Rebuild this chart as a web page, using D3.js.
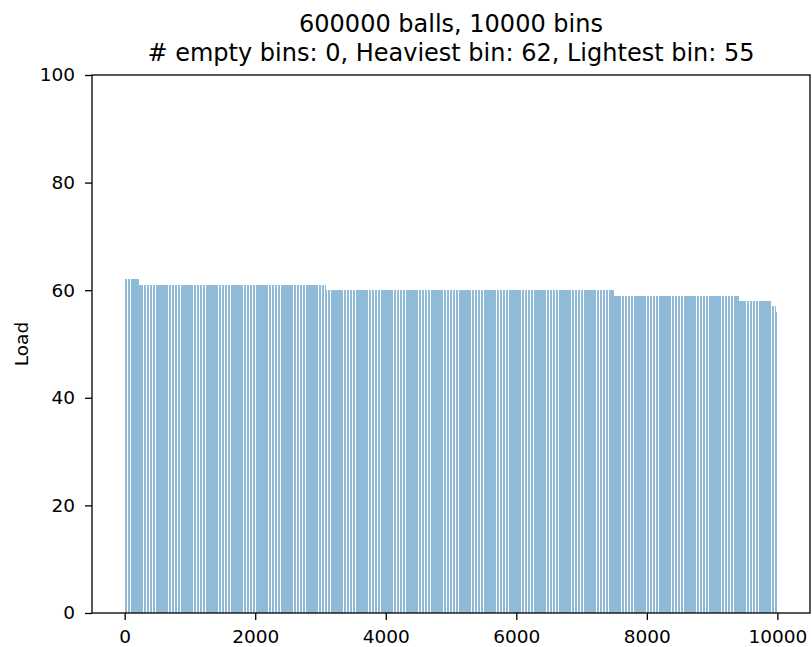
<!DOCTYPE html>
<html>
<head>
<meta charset="utf-8">
<script src="https://cdn.jsdelivr.net/npm/d3@7"></script>
<style>
  html, body { margin: 0; padding: 0; background: #fff; }
  svg { display: block; font-family: "DejaVu Sans", sans-serif; }
</style>
</head>
<body>
<svg id="chart" width="812" height="647"></svg>
<script>
// Bin loads after throwing the balls, sorted from heaviest to lightest.
// Stored as runs: each load value and how many bins carry it.
const loadLevels = [62, 61, 60, 59, 58, 57, 56, 55];
const binsPerLevel = [225, 2855, 4410, 1925, 500, 70, 13, 2];
const xTicks = [0, 2000, 4000, 6000, 8000, 10000];
const yTicks = [0, 20, 40, 60, 80, 100];
const titleLines = ["600000 balls, 10000 bins",
                    "# empty bins: 0, Heaviest bin: 62, Lightest bin: 55"];

// expand the runs into one load per bin
const loads = [];
loadLevels.forEach((v, i) => { for (let k = 0; k < binsPerLevel[i]; k++) loads.push(v); });
const nBins = loads.length;

const svg = d3.select("#chart");
const m = { left: 92, right: 810, top: 75, bottom: 613 };

// bar domain with 5% padding on either side
const span = (nBins - 1 + 0.8);
const pad = span * 0.05;
const x = d3.scaleLinear().domain([-0.4 - pad, nBins - 1 + 0.4 + pad]).range([m.left, m.right]);
const y = d3.scaleLinear().domain([0, 100]).range([m.bottom, m.top]);

// bars
svg.append("g")
  .attr("shape-rendering", "crispEdges")
  .selectAll("rect")
  .data(loads)
  .join("rect")
  .attr("x", (d, i) => x(i - 0.4))
  .attr("width", (d, i) => x(i + 0.4) - x(i - 0.4))
  .attr("y", d => y(d))
  .attr("height", d => y(0) - y(d))
  .attr("fill", "#1f77b4")
  .attr("fill-opacity", 0.5);

// axes
const tickFont = "18.5px";
const xAxis = d3.axisBottom(x).tickValues(xTicks).tickFormat(d3.format("d")).tickSize(7).tickPadding(10);
const yAxis = d3.axisLeft(y).tickValues(yTicks).tickFormat(d3.format("d")).tickSize(7).tickPadding(10);

const gx = svg.append("g").attr("transform", `translate(0,${m.bottom})`).call(xAxis);
const gy = svg.append("g").attr("transform", `translate(${m.left},0)`).call(yAxis);
[gx, gy].forEach(g => {
  g.select(".domain").remove();
  g.selectAll("text").attr("font-size", tickFont).attr("fill", "#000").attr("font-family", "DejaVu Sans");
  g.selectAll("line").attr("stroke", "#000").attr("stroke-width", 1.3);
});

// frame
svg.append("rect")
  .attr("x", m.left).attr("y", m.top)
  .attr("width", m.right - m.left).attr("height", m.bottom - m.top)
  .attr("fill", "none").attr("stroke", "#000").attr("stroke-width", 1.3);

// axis label
svg.append("text")
  .attr("transform", `translate(28,${(m.top + m.bottom) / 2}) rotate(-90)`)
  .attr("text-anchor", "middle")
  .attr("font-size", "18.5px")
  .text("Load");

// title
svg.selectAll("text.title")
  .data(titleLines)
  .join("text")
  .attr("class", "title")
  .attr("x", (m.left + m.right) / 2)
  .attr("y", (d, i) => 32 + i * 29)
  .attr("text-anchor", "middle")
  .attr("font-size", "24px")
  .text(d => d);
</script>
</body>
</html>
